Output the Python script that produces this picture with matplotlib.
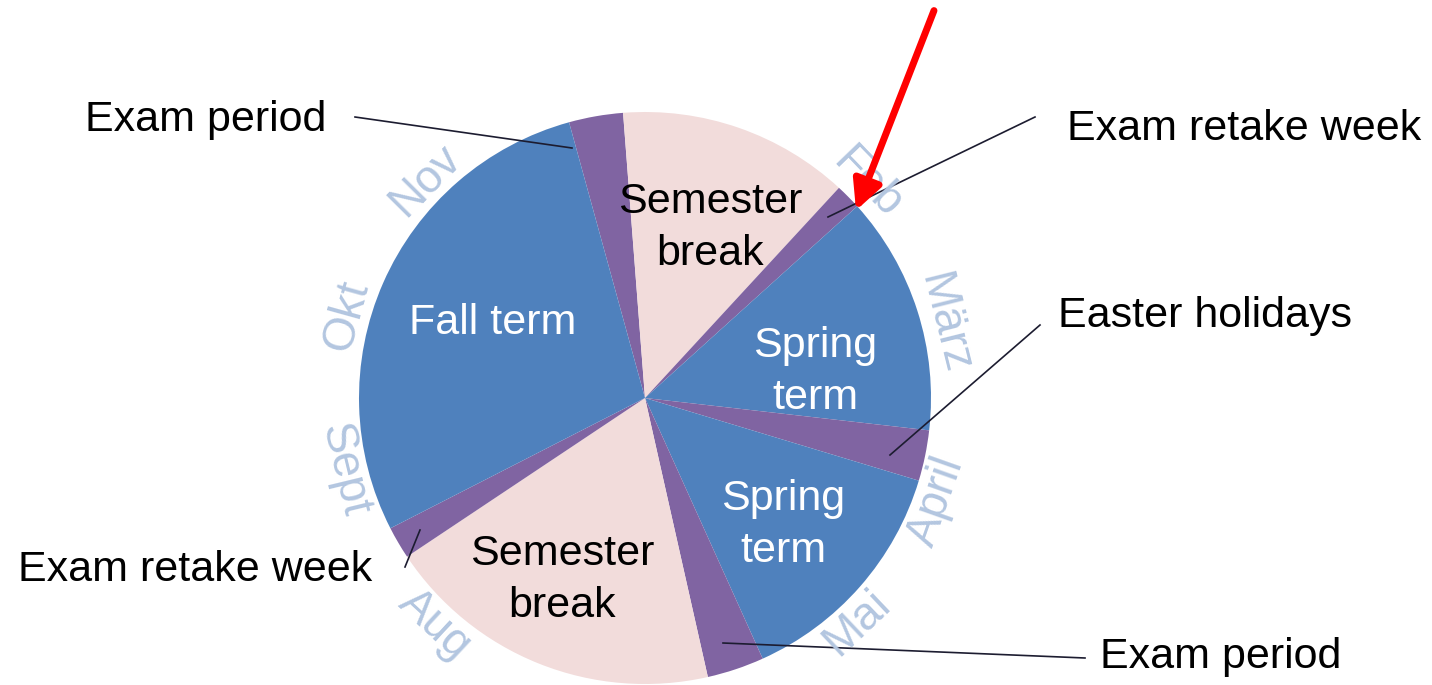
import matplotlib
matplotlib.use('Agg')
import matplotlib.pyplot as plt
import numpy as np

plt.rcParams['font.family'] = ['Liberation Sans', 'DejaVu Sans']

W, H = 1432, 685

# slices, clockwise from the top (angular size in degrees)
slice_names = ['Exam period', 'Semester break', 'Exam retake week', 'Spring term', 'Easter holidays',
               'Spring term', 'Exam period', 'Semester break', 'Exam retake week', 'Fall term']
slice_sizes = [11.0, 47.1, 5.2, 48.6, 10.3, 48.9, 11.6, 69.0, 6.6, 101.7]
start_angle = 105.4

kind_colors = {'term': '#4F81BD', 'break': '#F2DCDB', 'exam': '#8064A2'}
slice_kinds = ['exam', 'break', 'exam', 'term', 'exam', 'term', 'exam', 'break', 'exam', 'term']

# month labels around the circle (angle in degrees)
months = ['Feb', 'März', 'April', 'Mai', 'Aug', 'Sept', 'Okt', 'Nov']
month_angles = [44.0, 14.0, -19.5, -46.6, -132.9, 193.6, 164.5, 135.3]

# labels inside slices (pixel positions)
inner_text = ['Semester\nbreak', 'Fall term', 'Spring\nterm', 'Spring\nterm', 'Semester\nbreak']
inner_pos = [(710, 228), (493, 323), (815, 372), (783, 525), (562, 580)]
inner_color = ['black', 'white', 'white', 'white', 'black']

# outer labels with leader lines
outer_text = ['Exam period', 'Exam retake week', 'Easter holidays', 'Exam period', 'Exam retake week']
outer_pos = [(85, 120), (1067, 129), (1058, 316), (1100, 657), (18, 570)]
leader_from = [(355, 117), (1035, 117), (1040, 325), (1085, 658), (405, 567)]
leader_to = [(572, 148), (828, 217), (890, 455), (723, 643), (420, 530)]

cx, cy, R = 645, 398, 286


def Y(y):
    return H - y


fig = plt.figure(figsize=(W / 100, H / 100), dpi=100)
ax = fig.add_axes([0, 0, 1, 1])

ax.pie(slice_sizes, colors=[kind_colors[k] for k in slice_kinds], startangle=start_angle,
       counterclock=False, center=(cx, Y(cy)), radius=R, frame=True,
       wedgeprops=dict(linewidth=0))

for m, a in zip(months, month_angles):
    t = np.deg2rad(a)
    r = R * 1.08
    x = cx + r * np.cos(t)
    y = Y(cy) + r * np.sin(t)
    rot = a - 90 if np.sin(t) > 0 else a + 90
    rot = (rot + 180) % 360 - 180
    ax.text(x, y, m, fontsize=33, color='#B3C6E0', rotation=rot, rotation_mode='anchor',
            ha='center', va='center')

for t, (x, y), c in zip(inner_text, inner_pos, inner_color):
    ax.text(x, Y(y), t, fontsize=31, color=c, ha='center', va='center', linespacing=1.38)

for t, (x, y) in zip(outer_text, outer_pos):
    ax.text(x, Y(y), t, fontsize=31, color='black', ha='left', va='center')

for (x0, y0), (x1, y1) in zip(leader_from, leader_to):
    ax.plot([x0, x1], [Y(y0), Y(y1)], color='#1c1c30', lw=1.2)

# red arrow
ax.annotate('', xy=(855, Y(213)), xytext=(935, Y(8)),
            arrowprops=dict(arrowstyle='-|>', color='#FF0000', lw=5, mutation_scale=44))

ax.set_xlim(0, W)
ax.set_ylim(0, H)
ax.set_aspect('equal')
ax.axis('off')

fig.savefig('out.png', dpi=100)
